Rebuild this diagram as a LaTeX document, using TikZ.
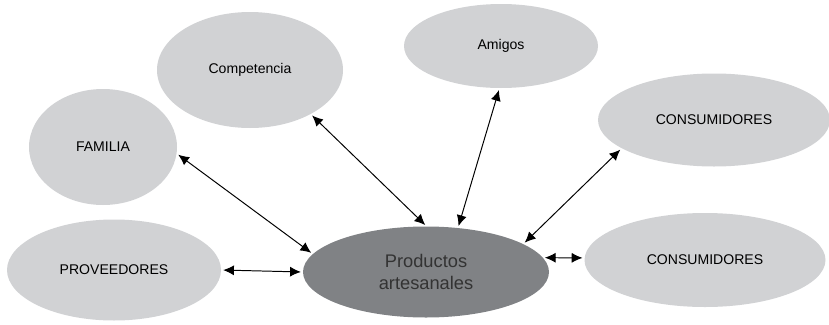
\documentclass[tikz,border=0pt]{standalone}
\usepackage{fontspec}
\setmainfont{Liberation Sans}
\usetikzlibrary{shapes.geometric,arrows.meta}
\definecolor{lightgr}{HTML}{D1D2D4}
\definecolor{darkgr}{HTML}{808285}
\begin{document}
\begin{tikzpicture}[x=1cm,y=1cm,
    actor/.style={ellipse,fill=lightgr,text=black,inner sep=0pt,outer sep=0pt,font=\fontsize{10}{12}\selectfont},
    centre/.style={ellipse,fill=darkgr,text=black!80,align=center,inner sep=0pt,outer sep=0pt,font=\fontsize{13}{16}\selectfont},
    link/.style={{Latex[length=2.7mm,width=2.5mm]}-{Latex[length=2.7mm,width=2.5mm]},line width=0.7pt,shorten <=1.5pt,shorten >=1.5pt}]
  \useasboundingbox (0,0) rectangle (20.725,8.1);
  \node[actor,minimum width=4.65cm,minimum height=2.9cm] (comp) at (6.25,6.35) {Competencia};
  \node[actor,minimum width=3.7cm,minimum height=2.9cm] (fam) at (2.575,4.425) {FAMILIA};
  \node[actor,minimum width=5.35cm,minimum height=2.525cm] (prov) at (2.85,1.35) {PROVEEDORES};
  \node[actor,minimum width=4.85cm,minimum height=2.1cm] (ami) at (12.525,6.95) {Amigos};
  \node[actor,minimum width=5.8cm,minimum height=2.325cm] (cons1) at (17.85,5.1) {CONSUMIDORES};
  \node[actor,minimum width=6.025cm,minimum height=2.35cm] (cons2) at (17.625,1.6) {CONSUMIDORES};
  \node[centre,minimum width=6.15cm,minimum height=2.275cm] (prod) at (10.65,1.3) {Productos\\artesanales};
  % connectors
  \draw[link] (fam.-5) -- (prod.171);
  \draw[link] (comp.-36) -- (prod.89);
  \draw[link] (ami.-92) -- (prod.54);
  \draw[link] (cons1.197) -- (prod.16);
  \draw[link] (prov.east) -- (prod.west);
  \draw[link] (prod.7) -- (cons2.179);
\end{tikzpicture}
\end{document}
